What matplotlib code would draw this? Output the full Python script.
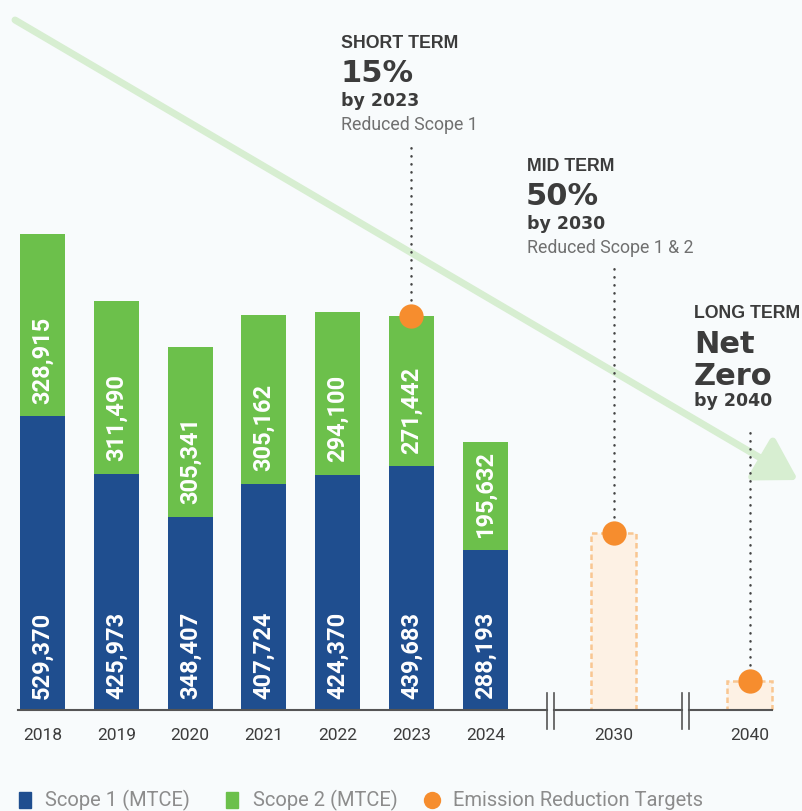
import matplotlib
matplotlib.use("Agg")
import matplotlib.pyplot as plt
from matplotlib.patches import Rectangle
from matplotlib.lines import Line2D

# Data
years = ["2018", "2019", "2020", "2021", "2022", "2023", "2024"]
scope1 = [529370, 425973, 348407, 407724, 424370, 439683, 288193]
scope2 = [328915, 311490, 305341, 305162, 294100, 271442, 195632]
target_years = ["2030", "2040"]
target_values = [319000, 52000]  # estimated from the dashed boxes

BLUE = "#1f4e8f"
GREEN = "#6cc04b"
ORANGE = "#f68d2e"
BOX_FILL = "#fdf1e4"
BOX_EDGE = "#f9c691"
BG = "#f8fbfc"
DARK = "#3c3c3c"

W, H = 802, 811
BASE_PX = 710          # baseline, pixels from top
UNITS_PER_PX = 1803    # value units per pixel
X0_PX, STEP_PX = 42.5, 73.8

fig = plt.figure(figsize=(W / 100, H / 100), dpi=100, facecolor=BG)
ax = fig.add_axes([0, (H - BASE_PX) / H, 1, BASE_PX / H])
ax.set_facecolor("none")
ax.set_xlim(-X0_PX / STEP_PX, (W - X0_PX) / STEP_PX)
ax.set_ylim(0, BASE_PX * UNITS_PER_PX)
for s in ax.spines.values():
    s.set_visible(False)
ax.set_yticks([])


def px_x(x):
    return (x - X0_PX) / STEP_PX


def px_y(y):
    return (BASE_PX - y) * UNITS_PER_PX


def ftext(x, y, s, **kw):
    fig.text(x / W, 1 - y / H, s, ha="left", va="baseline", **kw)


bar_pos = list(range(len(years)))
target_pos = [7.74, 9.58]
bar_w = 0.61

# background trend arrow
ax.annotate("", xy=(798, H - 480), xycoords="figure pixels",
            xytext=(15, H - 20), textcoords="figure pixels",
            arrowprops=dict(arrowstyle="-|>,head_length=1.25,head_width=0.75",
                            mutation_scale=20, lw=5, color="#d7eed1",
                            shrinkA=0, shrinkB=0, capstyle="round"),
            zorder=0)

# stacked bars
ax.bar(bar_pos, scope1, bar_w, color=BLUE, zorder=2)
ax.bar(bar_pos, scope2, bar_w, bottom=scope1, color=GREEN, zorder=2)

lbl_font = dict(family=["Roboto", "DejaVu Sans"], fontsize=17, fontweight="bold",
                color="white", rotation=90, ha="center", va="bottom")
for p, a, b in zip(bar_pos, scope1, scope2):
    ax.annotate(f"{a:,}", (p, 0), xytext=(0, 8), textcoords="offset points",
                zorder=3, **lbl_font)
    ax.annotate(f"{b:,}", (p, a), xytext=(0, 9), textcoords="offset points",
                zorder=3, **lbl_font)

# target boxes
ax.bar(target_pos, target_values, bar_w, color=BOX_FILL, edgecolor=BOX_EDGE,
       linewidth=1.8, linestyle=(0, (2.2, 1.4)), zorder=2)

# target dots and dotted leader lines
dot_x = [bar_pos[5]] + target_pos
dot_y = [scope1[5] + scope2[5]] + target_values
line_top_px = [143, 265, 425]
for x, y, t in zip(dot_x, dot_y, line_top_px):
    ax.plot([x, x], [y, px_y(t)], color="#444444", lw=1.8,
            linestyle=(0, (0.1, 3.1)), dash_capstyle="round", zorder=1)
ax.plot(dot_x, dot_y, "o", ms=17.5, color=ORANGE, mec="none", zorder=4)

# x axis with break marks
breaks = [6.88, 8.71]
gap = 0.045
segs = [(px_x(18), breaks[0] - gap), (breaks[0] + gap, breaks[1] - gap),
        (breaks[1] + gap, px_x(772))]
for a, b in segs:
    ax.plot([a, b], [0, 0], color="#555555", lw=1.5, clip_on=False, zorder=3)
for b in breaks:
    for d in (-gap, gap):
        ax.plot([b + d, b + d], [px_y(693), px_y(729)], color="#555555",
                lw=1.2, clip_on=False, zorder=3)

ax.set_xticks(bar_pos + target_pos, years + target_years,
              family=["Roboto", "DejaVu Sans"], fontsize=12.5, color=DARK)
ax.tick_params(axis="x", length=0, pad=13)

# target annotations
head = dict(family=["Liberation Sans", "DejaVu Sans"], fontsize=12.8,
            fontweight="bold", color=DARK)
big = dict(family="DejaVu Sans", fontsize=22, fontweight="bold", color=DARK)
by = dict(family="DejaVu Sans", fontsize=12.5, fontweight="bold", color=DARK)
sub = dict(family=["Roboto", "DejaVu Sans"], fontsize=12.8, fontweight="normal",
           color="#707070")

ftext(341, 48, "SHORT TERM", **head)
ftext(340, 82, "15%", **big)
ftext(341, 106, "by 2023", **by)
ftext(341, 130, "Reduced Scope 1", **sub)

ftext(527, 171, "MID TERM", **head)
ftext(526, 205, "50%", **big)
ftext(527, 229, "by 2030", **by)
ftext(527, 253, "Reduced Scope 1 & 2", **sub)

ftext(694, 318, "LONG TERM", **head)
ftext(694, 353, "Net", **big)
ftext(694, 385, "Zero", **big)
ftext(694, 406, "by 2040", **by)

# legend
leg = dict(family=["Roboto", "DejaVu Sans"], fontsize=14.5, fontweight="normal",
           color="#8c8c8c")
fig.add_artist(Rectangle((19 / W, 1 - 808 / H), 12 / W, 16 / H,
                         transform=fig.transFigure, color=BLUE))
ftext(45, 806, "Scope 1 (MTCE)", **leg)
fig.add_artist(Rectangle((226 / W, 1 - 808 / H), 12 / W, 16 / H,
                         transform=fig.transFigure, color=GREEN))
ftext(253, 806, "Scope 2 (MTCE)", **leg)
fig.add_artist(Line2D([432 / W], [1 - 800 / H], transform=fig.transFigure,
                      marker="o", ms=12.5, color=ORANGE, mec="none"))
ftext(453, 806, "Emission Reduction Targets", **leg)

fig.savefig("out.png", dpi=100, facecolor=BG)
